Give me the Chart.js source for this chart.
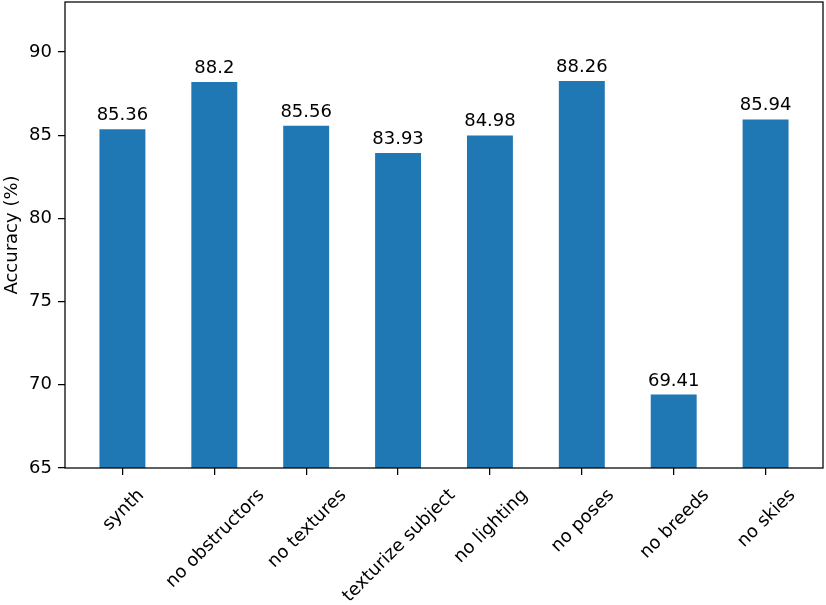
<!DOCTYPE html>
<html>
<head>
<meta charset="utf-8">
<script src="https://cdn.jsdelivr.net/npm/chart.js@4.4.1/dist/chart.umd.min.js"></script>
<style>
  html, body { margin: 0; padding: 0; background: #fff; }
  #wrap { width: 826px; height: 605px; position: relative; }
</style>
</head>
<body>
<div id="wrap"><canvas id="c" width="826" height="605"></canvas></div>
<script>
const categories = ['synth', 'no obstructors', 'no textures', 'texturize subject', 'no lighting', 'no poses', 'no breeds', 'no skies'];
const accuracy = [85.36, 88.2, 85.56, 83.93, 84.98, 88.26, 69.41, 85.94];
const valueLabels = ['85.36', '88.2', '85.56', '83.93', '84.98', '88.26', '69.41', '85.94'];
const yTicks = [65, 70, 75, 80, 85, 90];
const yLabel = 'Accuracy (%)';

const FONT = '"DejaVu Sans", "Liberation Sans", sans-serif';
const FS = 18;

const overlay = {
  id: 'overlay',
  afterDraw(chart) {
    const ctx = chart.ctx;
    const a = chart.chartArea;
    const meta = chart.getDatasetMeta(0);
    ctx.save();
    ctx.fillStyle = '#000';
    ctx.font = FS + 'px ' + FONT;
    ctx.textAlign = 'center';
    ctx.textBaseline = 'alphabetic';
    meta.data.forEach((bar, i) => {
      ctx.fillText(valueLabels[i], bar.x, bar.y - 9);
    });
    const xs = chart.scales.x;
    const asc = 0.928 * FS, desc = 0.236 * FS;
    const top = a.bottom + 7 + 9;
    categories.forEach((lab, i) => {
      const w = ctx.measureText(lab).width;
      const h = asc + desc;
      const bh = (w + h) * Math.SQRT1_2;
      const cx = xs.getPixelForValue(i);
      const cy = top + bh / 2;
      ctx.save();
      ctx.translate(cx, cy);
      ctx.rotate(-Math.PI / 4);
      ctx.textAlign = 'center';
      ctx.textBaseline = 'alphabetic';
      ctx.fillText(lab, 0, (asc - desc) / 2);
      ctx.restore();
    });
    ctx.save();
    ctx.translate(16.5, (a.top + a.bottom) / 2);
    ctx.rotate(-Math.PI / 2);
    ctx.textAlign = 'center';
    ctx.textBaseline = 'alphabetic';
    ctx.fillText(yLabel, 0, 0);
    ctx.restore();
    ctx.strokeStyle = '#000';
    ctx.lineWidth = 1.25;
    ctx.strokeRect(a.left, a.top, a.right - a.left, a.bottom - a.top);
    ctx.restore();
  }
};

new Chart(document.getElementById('c'), {
  type: 'bar',
  data: {
    datasets: [{
      data: categories.map((c, i) => ({ x: i, y: accuracy[i] })),
      backgroundColor: '#1f77b4',
      borderWidth: 0,
      categoryPercentage: 1.0,
      barPercentage: 0.5
    }]
  },
  options: {
    responsive: false,
    animation: false,
    devicePixelRatio: 1,
    layout: { padding: { left: 0, top: 2, right: 3, bottom: 0 } },
    plugins: { legend: { display: false }, tooltip: { enabled: false } },
    scales: {
      x: {
        type: 'linear',
        offset: false,
        min: -0.625,
        max: 7.625,
        afterBuildTicks(scale) { scale.ticks = categories.map((c, i) => ({ value: i })); },
        afterFit(scale) { scale.height = 137; scale.paddingLeft = 0; scale.paddingRight = 0; },
        border: { display: false },
        grid: { offset: false, drawOnChartArea: false, drawTicks: true, tickLength: 7, tickColor: '#000', lineWidth: 1.25 },
        ticks: { autoSkip: false, maxRotation: 0, minRotation: 0, callback: () => '', font: { size: 1 } }
      },
      y: {
        type: 'linear',
        min: 65,
        max: 93,
        beginAtZero: false,
        afterBuildTicks(scale) { scale.ticks = yTicks.map(v => ({ value: v })); },
        afterFit(scale) { scale.width = 65; scale.paddingTop = 0; scale.paddingBottom = 0; },
        border: { display: false },
        grid: { drawOnChartArea: false, drawTicks: true, tickLength: 7, tickColor: '#000', lineWidth: 1.25 },
        ticks: { color: '#000', padding: 6, font: { family: FONT, size: FS }, callback: v => String(v) }
      }
    }
  },
  plugins: [overlay]
});
</script>
</body>
</html>
